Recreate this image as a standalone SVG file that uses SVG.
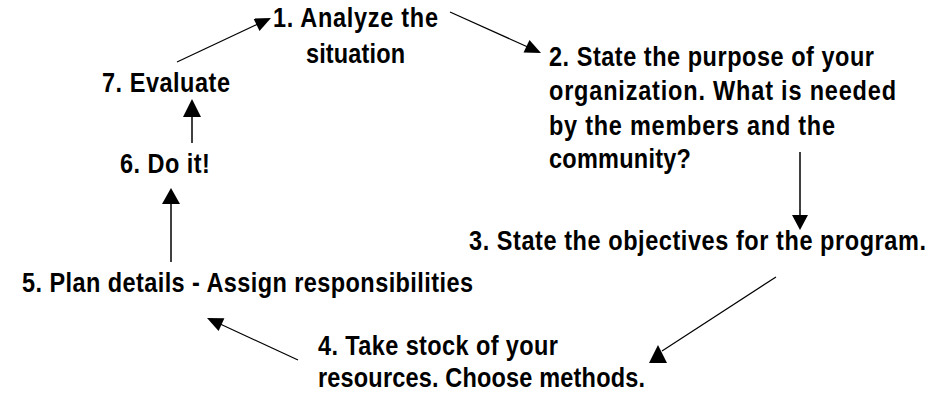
<svg xmlns="http://www.w3.org/2000/svg" width="942" height="404" viewBox="0 0 942 404">
<style>
  text { font-family: "Liberation Sans", Arial, "DejaVu Sans", sans-serif; font-weight: bold; font-size: 28px; fill: #000; }
  .ln { stroke: #000; stroke-width: 1.5; fill: none; }
  .dg { stroke-width: 1.2; }
  .ah { fill: #000; stroke: none; }
</style>
<rect width="942" height="404" fill="#fff"/>
<g id="connectors">
  <line class="ln dg" x1="177" y1="62" x2="260" y2="23"/>
  <polygon class="ah" points="271,18 259.5,31 253.5,18.5"/>
  <line class="ln dg" x1="450" y1="12" x2="530" y2="48"/>
  <polygon class="ah" points="541,53 523.5,52.5 529.5,40"/>
  <line class="ln" x1="800" y1="152" x2="800" y2="216"/>
  <polygon class="ah" points="792,215 808,215 800,230"/>
  <line class="ln dg" x1="776" y1="277" x2="662" y2="351"/>
  <polygon class="ah" points="649,363 667,363 658,345"/>
  <line class="ln dg" x1="298" y1="360" x2="218" y2="323"/>
  <polygon class="ah" points="207,318 224.4,318.3 218.6,331.1"/>
  <line class="ln" x1="171" y1="262" x2="171" y2="203"/>
  <polygon class="ah" points="162,204 180,204 171,188"/>
  <line class="ln" x1="192" y1="143" x2="192" y2="116"/>
  <polygon class="ah" points="183,117 201,117 192,99"/>
</g>
<g id="node1">
  <text transform="translate(273,27) scale(0.84,1)" textLength="196.4" lengthAdjust="spacing">1. Analyze the</text>
  <text transform="translate(306,63) scale(0.84,1)" textLength="117.9" lengthAdjust="spacing">situation</text>
</g>
<g id="node2">
  <text transform="translate(549,66) scale(0.84,1)" textLength="386.9" lengthAdjust="spacing">2. State the purpose of your</text>
  <text transform="translate(549,100) scale(0.84,1)" textLength="413.1" lengthAdjust="spacing">organization. What is needed</text>
  <text transform="translate(549,135) scale(0.84,1)" textLength="340.5" lengthAdjust="spacing">by the members and the</text>
  <text transform="translate(549,168) scale(0.84,1)" textLength="169" lengthAdjust="spacing">community?</text>
</g>
<g id="node3">
  <text transform="translate(469,250) scale(0.84,1)" textLength="544" lengthAdjust="spacing">3. State the objectives for the program.</text>
</g>
<g id="node4">
  <text transform="translate(318,355) scale(0.84,1)" textLength="285.7" lengthAdjust="spacing">4. Take stock of your</text>
  <text transform="translate(318,387) scale(0.84,1)" textLength="389.3" lengthAdjust="spacing">resources. Choose methods.</text>
</g>
<g id="node5">
  <text transform="translate(22,292) scale(0.84,1)" textLength="536.9" lengthAdjust="spacing">5. Plan details - Assign responsibilities</text>
</g>
<g id="node6">
  <text transform="translate(120,173) scale(0.84,1)" textLength="107.1" lengthAdjust="spacing">6. Do it!</text>
</g>
<g id="node7">
  <text transform="translate(102,92) scale(0.84,1)" textLength="152.4" lengthAdjust="spacing">7. Evaluate</text>
</g>
</svg>
